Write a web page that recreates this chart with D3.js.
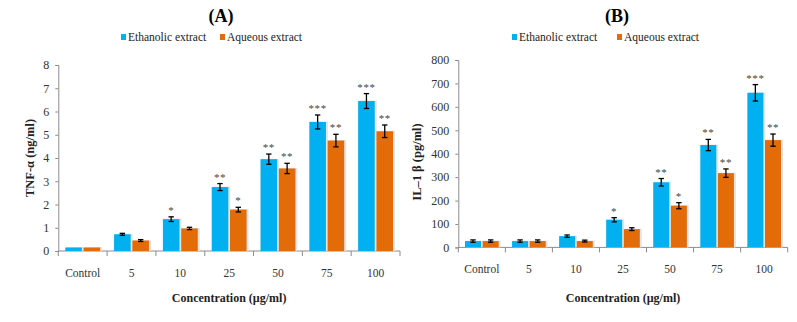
<!DOCTYPE html>
<html>
<head>
<meta charset="utf-8">
<script src="https://cdn.jsdelivr.net/npm/d3@7"></script>
<style>
  body { margin: 0; background: #fff; }
  svg { font-family: "Liberation Serif", "Times New Roman", serif; }
</style>
</head>
<body>
<div id="chart"></div>
<script>
// data
var categories = ["Control", "5", "10", "25", "50", "75", "100"];
var seriesNames = ["Ethanolic extract", "Aqueous extract"];
var seriesColors = ["#00B0F0", "#E36C09"];

var tnfEthanolic = [0.15, 0.72, 1.37, 2.75, 3.95, 5.55, 6.45];
var tnfEthanolicErr = [0, 0.04, 0.1, 0.15, 0.22, 0.3, 0.32];
var tnfAqueous = [0.15, 0.45, 0.97, 1.78, 3.55, 4.75, 5.15];
var tnfAqueousErr = [0, 0.04, 0.05, 0.1, 0.22, 0.27, 0.27];
var tnfEthanolicStars = ["", "", "*", "**", "**", "***", "***"];
var tnfAqueousStars = ["", "", "", "*", "**", "**", "**"];
var tnfTicks = [0, 1, 2, 3, 4, 5, 6, 7, 8];

var ilEthanolic = [27, 27, 48, 118, 278, 437, 660];
var ilEthanolicErr = [5, 5, 5, 9, 16, 24, 35];
var ilAqueous = [27, 27, 27, 78, 178, 317, 458];
var ilAqueousErr = [5, 5, 4, 6, 13, 18, 26];
var ilEthanolicStars = ["", "", "", "*", "**", "**", "***"];
var ilAqueousStars = ["", "", "", "", "*", "**", "**"];
var ilTicks = [0, 100, 200, 300, 400, 500, 600, 700, 800];

var svg = d3.select("#chart").append("svg")
    .attr("width", 797)
    .attr("height", 322);

function drawPanel(p) {
  var g = svg.append("g");

  var x = d3.scaleBand()
      .domain(categories)
      .range([p.left, p.right])
      .padding(0);
  var y = d3.scaleLinear()
      .domain([0, p.ticks[p.ticks.length - 1]])
      .range([p.bottom, p.top]);

  // title + legend
  g.append("text")
      .attr("x", p.titleX)
      .attr("y", 22)
      .attr("text-anchor", "middle")
      .style("font-weight", "bold")
      .style("font-size", "18px")
      .text(p.title);

  seriesNames.forEach(function(name, i) {
    var lx = p.legendX[i];
    g.append("rect")
        .attr("x", lx)
        .attr("y", 34)
        .attr("width", 5)
        .attr("height", 6)
        .attr("fill", seriesColors[i]);
    g.append("text")
        .attr("x", lx + 7)
        .attr("y", 41)
        .style("font-size", "11.5px")
        .attr("fill", "#222")
        .text(name);
  });

  // axes
  var yAxis = d3.axisLeft(y).tickValues(p.ticks).tickSize(3).tickPadding(6);
  var ya = g.append("g")
      .attr("transform", "translate(" + p.left + ",0)")
      .call(yAxis);
  ya.select(".domain").attr("stroke", "#8c8c8c");
  ya.selectAll(".tick line").attr("stroke", "#8c8c8c");
  ya.selectAll(".tick text")
      .style("font-family", "Liberation Serif, serif")
      .style("font-size", "12px")
      .attr("fill", "#333");

  var xa = g.append("g")
      .attr("transform", "translate(0," + p.bottom + ")");
  xa.append("line")
      .attr("x1", p.left).attr("x2", p.right)
      .attr("stroke", "#8c8c8c");
  var bounds = categories.map(function(c) { return x(c); }).concat([p.right]);
  xa.selectAll(".xt")
      .data(bounds)
      .enter().append("line")
      .attr("x1", function(d) { return d; })
      .attr("x2", function(d) { return d; })
      .attr("y1", 0).attr("y2", 5)
      .attr("stroke", "#8c8c8c");
  xa.selectAll(".xl")
      .data(categories)
      .enter().append("text")
      .attr("x", function(d) { return x(d) + x.bandwidth() / 2; })
      .attr("y", 26)
      .attr("text-anchor", "middle")
      .style("font-size", "11.5px")
      .attr("fill", "#333")
      .text(function(d) { return d; });

  // axis titles
  g.append("text")
      .attr("transform", "translate(" + p.yLabelX + "," + p.yLabelY + ") rotate(-90)")
      .attr("text-anchor", "middle")
      .style("font-weight", "bold")
      .style("font-size", "12.5px")
      .attr("fill", "#222")
      .text(p.yLabel);
  g.append("text")
      .attr("x", (p.left + p.right) / 2)
      .attr("y", 302)
      .attr("text-anchor", "middle")
      .style("font-weight", "bold")
      .style("font-size", "12px")
      .attr("fill", "#222")
      .text("Concentration (µg/ml)");

  // bars
  var bw = x.bandwidth();
  var barW = bw * 0.34;
  var gap = bw * 0.035;
  var offset = (bw - 2 * barW - gap) / 2;

  p.series.forEach(function(s, si) {
    var rows = categories.map(function(c, i) {
      return { cat: c, v: s.values[i], e: s.errors[i], star: s.stars[i] };
    });
    var bx = function(d) { return x(d.cat) + offset + si * (barW + gap); };

    // faint shadow around bars
    g.selectAll(".shadow" + si)
        .data(rows)
        .enter().append("rect")
        .attr("x", function(d) { return bx(d) + 1; })
        .attr("y", function(d) { return y(d.v) - 0.5; })
        .attr("width", barW + 1)
        .attr("height", function(d) { return p.bottom - y(d.v) + 0.5; })
        .attr("fill", "#e4e4e4");

    g.selectAll(".bar" + si)
        .data(rows)
        .enter().append("rect")
        .attr("x", bx)
        .attr("y", function(d) { return y(d.v); })
        .attr("width", barW)
        .attr("height", function(d) { return p.bottom - y(d.v); })
        .attr("fill", seriesColors[si]);

    var withErr = rows.filter(function(d) { return d.e > 0; });
    var eb = g.selectAll(".err" + si)
        .data(withErr)
        .enter().append("g")
        .attr("stroke", "#000")
        .attr("stroke-width", 1.3);
    eb.append("line")
        .attr("x1", function(d) { return bx(d) + barW / 2; })
        .attr("x2", function(d) { return bx(d) + barW / 2; })
        .attr("y1", function(d) { return y(d.v + d.e); })
        .attr("y2", function(d) { return y(d.v - d.e); });
    eb.selectAll("line.cap")
        .data(function(d) { return [d.v + d.e, d.v - d.e].map(function(v) { return { d: d, v: v }; }); })
        .enter().append("line")
        .attr("class", "cap")
        .attr("x1", function(c) { return bx(c.d) + barW / 2 - 2.7; })
        .attr("x2", function(c) { return bx(c.d) + barW / 2 + 2.7; })
        .attr("y1", function(c) { return y(c.v); })
        .attr("y2", function(c) { return y(c.v); });

    g.selectAll(".star" + si)
        .data(rows.filter(function(d) { return d.star; }))
        .enter().append("text")
        .attr("x", function(d) { return bx(d) + barW / 2; })
        .attr("y", function(d) { return y(d.v + d.e) - 3; })
        .attr("text-anchor", "middle")
        .style("font-size", "11px")
        .style("letter-spacing", "0.6px")
        .style("fill", "#444")
        .text(function(d) { return d.star; });
  });
}

drawPanel({
  title: "(A)", titleX: 221, legendX: [121, 220],
  left: 58.3, right: 400, top: 65, bottom: 251,
  ticks: tnfTicks,
  yLabel: "TNF-α (ng/ml)", yLabelX: 34, yLabelY: 158,
  series: [
    { values: tnfEthanolic, errors: tnfEthanolicErr, stars: tnfEthanolicStars },
    { values: tnfAqueous, errors: tnfAqueousErr, stars: tnfAqueousStars }
  ]
});

drawPanel({
  title: "(B)", titleX: 617, legendX: [512, 617],
  left: 458.3, right: 787.7, top: 60, bottom: 247.4,
  ticks: ilTicks,
  yLabel: "IL–1 β (pg/ml)", yLabelX: 421, yLabelY: 162,
  series: [
    { values: ilEthanolic, errors: ilEthanolicErr, stars: ilEthanolicStars },
    { values: ilAqueous, errors: ilAqueousErr, stars: ilAqueousStars }
  ]
});
</script>
</body>
</html>
